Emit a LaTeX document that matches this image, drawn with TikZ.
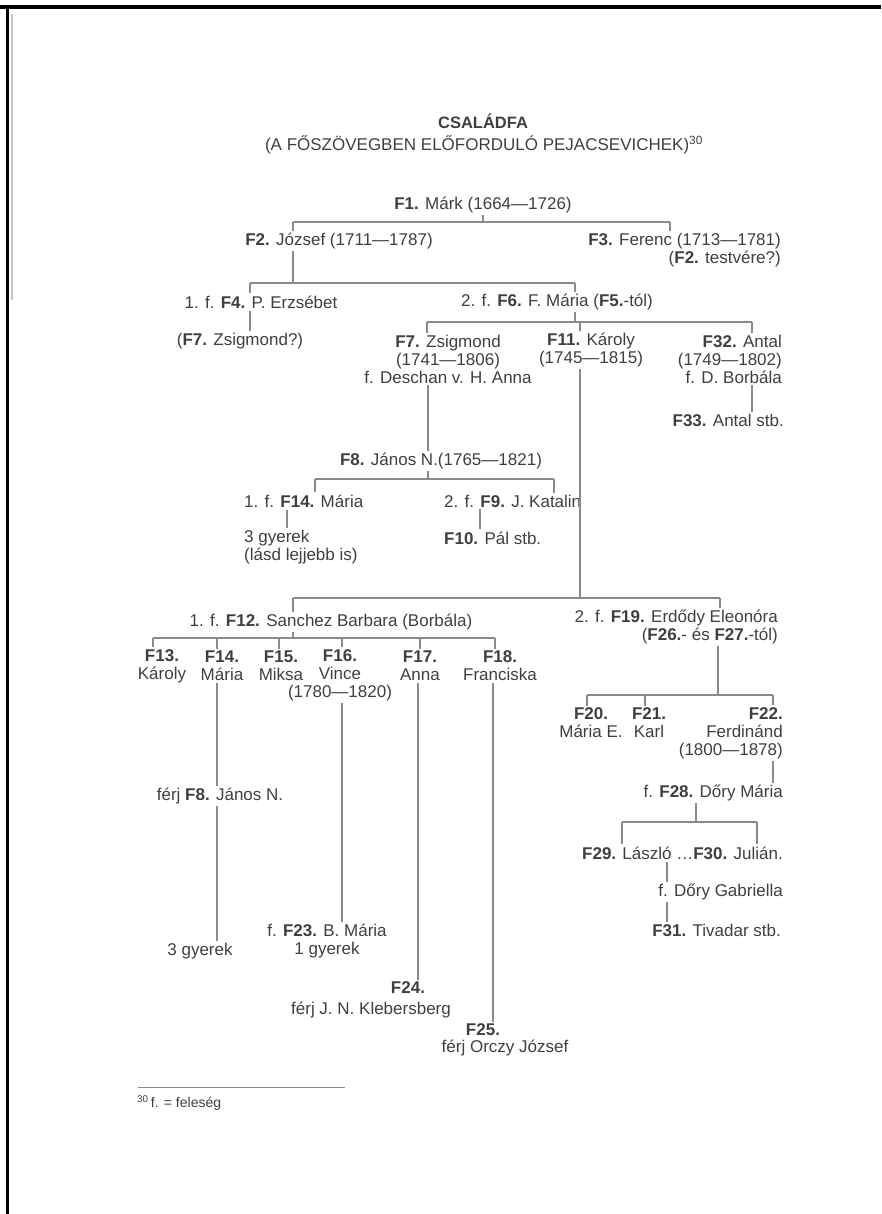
\documentclass[tikz,border=0pt]{standalone}
\usepackage{fontspec}
\setmainfont{Liberation Sans}
\definecolor{ink}{HTML}{3F3F3F}
\definecolor{treeline}{HTML}{8A8A8A}

\begin{document}
\begin{tikzpicture}[x=1pt, y=-1pt,
    person/.style={inner sep=2pt, text=ink, font=\fontsize{17}{18}\selectfont},
    note/.style={inner sep=1pt, text=ink, font=\fontsize{14}{16}\selectfont},
    link/.style={draw=treeline, line width=1.3pt}]
    \useasboundingbox (0,0) rectangle (881,1214);
    % Page frame
    \fill (0,5) rectangle (881,9);
    \fill (6,5) rectangle (9,1214);
    \draw[treeline!50, line width=1.5pt] (12,14) -- (12,300);

    % Title
    \node[person, font=\fontsize{16.5}{18}\selectfont] (title) at (483,121) {\textbf{CSALÁDFA}};
    \node[person] (subtitle) at (484,145) {(A FŐSZÖVEGBEN ELŐFORDULÓ PEJACSEVICHEK)\textsuperscript{30}};

    % Nodes
    \node[person] (f1) at (483,205) {\textbf{F1.} Márk (1664—1726)};
    \node[person] (f2) at (339,241) {\textbf{F2.} József (1711—1787)};
    \node[person, anchor=east, align=right] (f3) at (783,250) {\textbf{F3.} Ferenc (1713—1781)\\(\textbf{F2.} testvére?)};
    \node[person] (f4) at (261,302) {1. f. \textbf{F4.} P. Erzsébet};
    \node[person] (f6) at (557,302) {2. f. \textbf{F6.} F. Mária (\textbf{F5.}-tól)};
    \node[person] (f7q) at (240,341) {(\textbf{F7.} Zsigmond?)};
    \node[person, align=center] (f7) at (448,359) {\textbf{F7.} Zsigmond\\(1741—1806)\\f. Deschan v. H. Anna};
    \node[person, align=center] (f11) at (591,350) {\textbf{F11.} Károly\\(1745—1815)};
    \node[person, anchor=east, align=right] (f32) at (784,359) {\textbf{F32.} Antal\\(1749—1802)\\f. D. Borbála};
    \node[person, anchor=east] (f33) at (786,420) {\textbf{F33.} Antal stb.};
    \node[person] (f8) at (441,461) {\textbf{F8.} János N.(1765—1821)};
    \node[person, anchor=west] (f14a) at (242,501) {1. f. \textbf{F14.} Mária};
    \node[person, anchor=west] (f9) at (442,501) {2. f. \textbf{F9.} J. Katalin};
    \node[person, anchor=west, align=left] (kids1) at (242,547) {3 gyerek\\(lásd lejjebb is)};
    \node[person, anchor=west] (f10) at (442,538) {\textbf{F10.} Pál stb.};
    \node[person] (f12) at (331,622) {1. f. \textbf{F12.} Sanchez Barbara (Borbála)};
    \node[person, anchor=east, align=right] (f19) at (780,627) {2. f. \textbf{F19.} Erdődy Eleonóra\\(\textbf{F26.}- és \textbf{F27.}-tól)};
    \node[person, align=center] (f13) at (162,666) {\textbf{F13.}\\Károly};
    \node[person, align=center] (f14) at (222,666) {\textbf{F14.}\\Mária};
    \node[person, align=center] (f15) at (281,666) {\textbf{F15.}\\Miksa};
    \node[person, align=center] (f16) at (340,675) {\textbf{F16.}\\Vince\\(1780—1820)};
    \node[person, align=center] (f17) at (420,666) {\textbf{F17.}\\Anna};
    \node[person, align=center] (f18) at (500,666) {\textbf{F18.}\\Franciska};
    \node[person] (f14h) at (220,796) {férj \textbf{F8.} János N.};
    \node[person] (kids2) at (200,951) {3 gyerek};
    \node[person, align=center] (f23) at (327,941) {f. \textbf{F23.} B. Mária\\1 gyerek};
    \node[person] (f24) at (408,988) {\textbf{F24.}};
    \node[person] (f24h) at (371,1010) {férj J. N. Klebersberg};
    \node[person] (f25) at (483,1030) {\textbf{F25.}};
    \node[person] (f25h) at (505,1048) {férj Orczy József};
    \node[person, align=center] (f20) at (591,723) {\textbf{F20.}\\Mária E.};
    \node[person, align=center] (f21) at (649,723) {\textbf{F21.}\\Karl};
    \node[person, anchor=east, align=right] (f22) at (785,733) {\textbf{F22.}\\Ferdinánd\\(1800—1878)};
    \node[person, anchor=east] (f28) at (785,793) {f. \textbf{F28.} Dőry Mária};
    \node[person, anchor=east] (f29) at (785,853) {\textbf{F29.} László …\textbf{F30.} Julián.};
    \node[person, anchor=east] (fdg) at (785,892) {f. Dőry Gabriella};
    \node[person, anchor=east] (f31) at (783,930) {\textbf{F31.} Tivadar stb.};

    % Bar points
    \coordinate (b1) at (483,222);  \coordinate (b1l) at (293,222); \coordinate (b1r) at (670,222);
    \coordinate (b2) at (293,283);  \coordinate (b2l) at (250,283); \coordinate (b2r) at (575,283);
    \coordinate (b3) at (575,322);  \coordinate (b3l) at (427,322); \coordinate (b3m) at (580,322); \coordinate (b3r) at (752,322);
    \coordinate (b4) at (428,479);  \coordinate (b4l) at (315,479); \coordinate (b4r) at (554,479);
    \coordinate (b5) at (580,598);  \coordinate (b5l) at (293,598); \coordinate (b5r) at (720,598);
    \coordinate (b6) at (293,638);  \coordinate (b6l) at (153,638); \coordinate (b6r) at (495,638);
    \coordinate (b7) at (718,695);  \coordinate (b7l) at (587,695); \coordinate (b7r) at (773,695);
    \coordinate (b8) at (696,822);  \coordinate (b8l) at (622,822); \coordinate (b8r) at (757,822);

    % Lines
    \draw[link] (f1) -- (b1);
    \draw[link] (b1l) -- (b1r);
    \draw[link] (b1l) -- (b1l |- f2.north);
    \draw[link] (b1r) -- (b1r |- f3.north);

    \draw[link] (f2.south -| b2) -- (b2);
    \draw[link] (b2l) -- (b2r);
    \draw[link] (b2l) -- (b2l |- f4.north);
    \draw[link] (b2r) -- (b2r |- f6.north);
    \draw[link] (f4.south -| b2l) -- (f7q.north -| b2l);

    \draw[link] (f6.south -| b3) -- (b3);
    \draw[link] (b3l) -- (b3r);
    \draw[link] (b3l) -- (b3l |- f7.north);
    \draw[link] (b3m) -- (b3m |- f11.north);
    \draw[link] (b3r) -- (b3r |- f32.north);
    \draw[link] (f32.south -| b3r) -- (f33.north -| b3r);

    \draw[link] (f7.south -| b4) -- (f8.north -| b4);
    \draw[link] (f8.south -| b4) -- (b4);
    \draw[link] (b4l) -- (b4r);
    \draw[link] (b4l) -- (b4l |- f14a.north);
    \draw[link] (b4r) -- (b4r |- f9.north);
    \draw[link] (f14a.south -| 287,0) -- (kids1.north -| 287,0);
    \draw[link] (f9.south -| 480,0) -- (f10.north -| 480,0);

    \draw[link] (f11.south -| b5) -- (b5);
    \draw[link] (b5l) -- (b5r);
    \draw[link] (b5l) -- (b5l |- f12.north);
    \draw[link] (b5r) -- (b5r |- f19.north);

    \draw[link] (f12.south -| b6) -- (b6);
    \draw[link] (b6l) -- (b6r);
    \foreach \kid/\xx in {f13/153, f14/217, f15/279, f16/342, f17/420, f18/495}
      \draw[link] (\xx,638) -- (\kid.north -| \xx,0);
    \draw[link] (f14.south -| 217,0) -- (f14h.north -| 217,0);
    \draw[link] (f14h.south -| 217,0) -- (kids2.north -| 217,0);
    \draw[link] (f16.south -| 342,0) -- (f23.north -| 342,0);
    \draw[link] (f17.south -| 418,0) -- (f24.north -| 418,0);
    \draw[link] (f18.south -| 493,0) -- (f25.north -| 493,0);

    \draw[link] (f19.south -| b7) -- (b7);
    \draw[link] (b7l) -- (b7r);
    \draw[link] (b7l) -- (b7l |- f20.north);
    \draw[link] (645,695) -- (f21.north -| 645,0);
    \draw[link] (b7r) -- (b7r |- f22.north);
    \draw[link] (f22.south -| b7r) -- (f28.north -| b7r);

    \draw[link] (f28.south -| b8) -- (b8);
    \draw[link] (b8l) -- (b8r);
    \draw[link] (b8l) -- (b8l |- f29.north);
    \draw[link] (b8r) -- (b8r |- f29.north);
    \draw[link] (f29.south -| 667,0) -- (fdg.north -| 667,0);
    \draw[link] (fdg.south -| 667,0) -- (f31.north -| 667,0);

    % Footnote
    \draw[treeline, line width=1pt] (138,1087) -- (345,1087);
    \node[note, anchor=west] (fnote) at (136,1103) {\textsuperscript{30}\,f. = feleség};
\end{tikzpicture}
\end{document}
